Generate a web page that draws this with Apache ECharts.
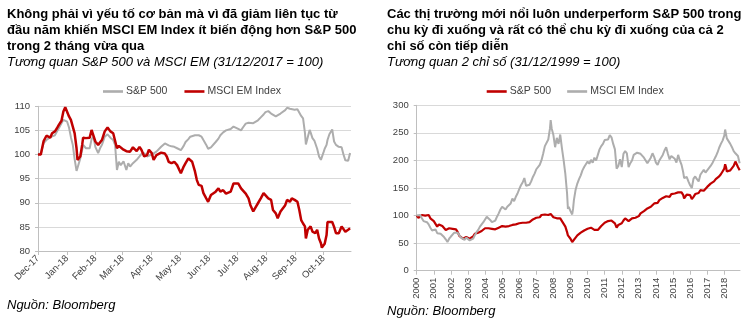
<!DOCTYPE html>
<html>
<head>
<meta charset="utf-8">
<script src="https://cdn.jsdelivr.net/npm/echarts@6/dist/echarts.min.js"></script>
<style>
  html, body { margin: 0; padding: 0; background: #fff; }
  #left  { position: absolute; left: 0;     top: 0; width: 380px; height: 330px; }
  #right { position: absolute; left: 380px; top: 0; width: 367px; height: 330px; }
</style>
</head>
<body>
<div id="left"></div>
<div id="right"></div>
<script>
// ---------- Left panel: S&P 500 vs MSCI EM, 31/12/2017 = 100 ----------
const leftTitle = [
  'Không phải vì yếu tố cơ bản mà vì đã giảm liên tục từ',
  'đầu năm khiến MSCI EM Index ít biến động hơn S&P 500',
  'trong 2 tháng vừa qua'
];
const leftSubtitle = 'Tương quan S&P 500 và MSCI EM (31/12/2017 = 100)';
const leftSeriesNames = ['S&P 500', 'MSCI EM Index'];

const leftDates = [
  '2017-12-29','2018-01-01','2018-01-04','2018-01-07','2018-01-09','2018-01-11','2018-01-13','2018-01-16','2018-01-18','2018-01-20','2018-01-23','2018-01-25','2018-01-27','2018-01-29','2018-01-31',
  '2018-02-02','2018-02-04','2018-02-06','2018-02-08','2018-02-09','2018-02-12','2018-02-14','2018-02-15','2018-02-18','2018-02-20','2018-02-22','2018-02-24','2018-02-26','2018-02-28',
  '2018-03-03','2018-03-05','2018-03-07','2018-03-10','2018-03-13','2018-03-16','2018-03-19','2018-03-21','2018-03-23','2018-03-25','2018-03-27','2018-03-30',
  '2018-04-02','2018-04-04','2018-04-06','2018-04-09','2018-04-13','2018-04-16','2018-04-18','2018-04-21','2018-04-24','2018-04-26','2018-04-29',
  '2018-05-01','2018-05-04','2018-05-06','2018-05-09','2018-05-11','2018-05-13','2018-05-15','2018-05-17','2018-05-20','2018-05-23','2018-05-26','2018-05-28','2018-05-30',
  '2018-06-02','2018-06-04','2018-06-07','2018-06-09','2018-06-11','2018-06-14','2018-06-16','2018-06-18','2018-06-21','2018-06-23','2018-06-26','2018-06-28',
  '2018-07-01','2018-07-03','2018-07-06','2018-07-09','2018-07-11','2018-07-14','2018-07-17','2018-07-19','2018-07-22','2018-07-25','2018-07-27','2018-07-30',
  '2018-08-02','2018-08-04','2018-08-07','2018-08-10','2018-08-12','2018-08-15','2018-08-17','2018-08-20','2018-08-23','2018-08-26','2018-08-28','2018-08-31',
  '2018-09-03','2018-09-05','2018-09-08','2018-09-10','2018-09-13','2018-09-15','2018-09-18','2018-09-20','2018-09-23','2018-09-25','2018-09-28',
  '2018-10-01','2018-10-03','2018-10-05','2018-10-07','2018-10-09','2018-10-10','2018-10-12','2018-10-14','2018-10-15','2018-10-17','2018-10-19','2018-10-20','2018-10-22','2018-10-24','2018-10-26','2018-10-27','2018-10-29','2018-10-30',
  '2018-11-01','2018-11-02','2018-11-04','2018-11-07','2018-11-09','2018-11-11','2018-11-14','2018-11-17','2018-11-19','2018-11-21','2018-11-24','2018-11-26'
];
const leftSP = [
  100, 100.2, 102.4, 103.0, 103.4, 103.6, 103.5, 104.0, 104.7, 105.4, 106.5, 107.2, 107.6, 106.8, 105.6,
  103.6, 102.0, 99.0, 96.6, 97.2, 99.2, 101.0, 102.0, 101.3, 101.6, 101.3, 103.2, 103.7, 101.6,
  100.3, 101.3, 102.0, 103.7, 104.2, 103.5, 103.0, 102.0, 96.8, 98.5, 97.8, 98.6,
  96.8, 98.2, 97.5, 98.2, 98.9, 99.6, 100.1, 100.3, 99.6, 99.8, 100.0,
  100.2, 100.6, 101.0, 101.6, 102.0, 102.3, 102.0, 101.9, 101.7, 101.6, 101.3, 101.0, 100.9,
  101.8, 102.6, 103.2, 103.7, 103.8, 104.0, 104.1, 104.0, 103.7, 103.0, 102.0, 101.2,
  101.5, 101.9, 102.6, 103.3, 104.0, 104.6, 105.0, 105.1, 105.3, 105.8, 106.2, 105.3,
  105.0, 105.6, 106.4, 106.6, 106.8, 106.5, 106.2, 107.1, 107.7, 108.3, 108.8, 109.0,
  108.5, 108.2, 107.9, 108.0, 108.5, 108.8, 109.2, 109.7, 109.5, 109.3, 109.3,
  109.4, 109.0, 108.0, 107.5, 104.5, 102.1, 103.6, 105.1, 104.6, 103.4, 102.9, 102.6, 101.2, 99.6, 98.9, 99.3, 100.6, 101.2,
  102.0, 103.0, 104.2, 105.2, 102.7, 102.0, 101.6, 101.5, 100.0, 98.8, 98.7, 100.3
];
const leftEM = [
  100, 100, 102.8, 103.9, 104.2, 103.5, 104.4, 104.8, 105.4, 106.1, 107.0, 108.9, 109.8, 109.4, 107.9,
  107.2, 105.8, 104.4, 101.3, 98.9, 99.6, 102.0, 103.5, 103.4, 103.7, 103.5, 105.1, 105.3, 102.7,
  102.0, 102.4, 103.0, 104.8, 105.6, 104.8, 104.4, 104.1, 101.3, 101.8, 101.5, 101.0,
  100.7, 100.6, 100.6, 101.5, 100.7, 101.6, 101.0, 99.6, 99.9, 101.0, 100.3,
  98.9, 99.9, 99.6, 100.4, 100.8, 100.2, 99.6, 98.5, 98.2, 98.5, 97.8, 98.2, 96.1,
  97.5, 98.2, 99.2, 98.9, 98.5, 96.5, 94.7, 93.7, 93.5, 92.0, 90.9, 90.2,
  91.6, 91.3, 92.3, 93.0, 92.3, 92.6, 91.9, 92.3, 92.3, 94.0, 94.4, 94.0,
  93.0, 93.3, 91.9, 90.9, 89.5, 88.2, 88.9, 89.9, 90.9, 92.0, 92.3, 90.9,
  90.6, 88.5, 87.8, 86.8, 88.2, 87.8, 89.5, 90.6, 90.2, 90.9, 90.6,
  90.2, 88.5, 86.4, 85.7, 85.1, 82.6, 84.4, 84.0, 85.1, 84.0, 84.4, 83.7, 84.4, 82.6, 81.6, 80.7, 80.9, 81.5,
  83.3, 86.0, 85.7, 86.0, 85.0, 83.7, 83.7, 85.1, 85.2, 84.0, 84.4, 84.7
];
// Monthly axis marks, stepped from the base date
const leftTickDates = ['2017-12-29','2018-01-29','2018-02-28','2018-03-29','2018-04-29','2018-05-29',
                       '2018-06-29','2018-07-29','2018-08-29','2018-09-29','2018-10-29'];
const leftRange = ['2017-12-29', '2018-11-27'];

// ---------- Right panel: long-run comparison, 31/12/1999 = 100 ----------
const rightTitle = [
  'Các thị trường mới nổi luôn underperform S&P 500 trong',
  'chu kỳ đi xuống và rất có thể chu kỳ đi xuống của cả 2',
  'chỉ số còn tiếp diễn'
];
const rightSubtitle = 'Tương quan 2 chỉ số (31/12/1999 = 100)';
const rightSeriesNames = ['S&P 500', 'MSCI EM Index'];

const rightYears = [
  2000.0, 2000.1, 2000.2, 2000.3, 2000.4, 2000.5, 2000.6, 2000.7, 2000.8, 2000.9,
  2001.0, 2001.1, 2001.2, 2001.3, 2001.4, 2001.5, 2001.6, 2001.7, 2001.8, 2001.9,
  2002.0, 2002.1, 2002.2, 2002.3, 2002.4, 2002.5, 2002.6, 2002.7, 2002.8, 2002.9,
  2003.0, 2003.1, 2003.2, 2003.3, 2003.4, 2003.5, 2003.6, 2003.7, 2003.8, 2003.9,
  2004.0, 2004.1, 2004.2, 2004.3, 2004.4, 2004.5, 2004.6, 2004.7, 2004.8, 2004.9,
  2005.0, 2005.1, 2005.2, 2005.3, 2005.4, 2005.5, 2005.6, 2005.7, 2005.8, 2005.9,
  2006.0, 2006.1, 2006.2, 2006.3, 2006.4, 2006.5, 2006.6, 2006.7, 2006.8, 2006.9,
  2007.0, 2007.1, 2007.2, 2007.3, 2007.4, 2007.5, 2007.6, 2007.7, 2007.8, 2007.84, 2007.9,
  2008.0, 2008.1, 2008.2, 2008.3, 2008.4, 2008.5, 2008.6, 2008.7, 2008.8, 2008.85, 2008.9,
  2009.0, 2009.1, 2009.15, 2009.2, 2009.3, 2009.4, 2009.5, 2009.6, 2009.7, 2009.8, 2009.9,
  2010.0, 2010.1, 2010.2, 2010.3, 2010.4, 2010.5, 2010.6, 2010.7, 2010.8, 2010.9,
  2011.0, 2011.1, 2011.2, 2011.3, 2011.4, 2011.5, 2011.6, 2011.7, 2011.8, 2011.9,
  2012.0, 2012.1, 2012.2, 2012.3, 2012.4, 2012.5, 2012.6, 2012.7, 2012.8, 2012.9,
  2013.0, 2013.1, 2013.2, 2013.3, 2013.4, 2013.5, 2013.6, 2013.7, 2013.8, 2013.9,
  2014.0, 2014.1, 2014.2, 2014.3, 2014.4, 2014.5, 2014.6, 2014.7, 2014.8, 2014.9,
  2015.0, 2015.1, 2015.2, 2015.3, 2015.4, 2015.5, 2015.6, 2015.65, 2015.7, 2015.8, 2015.9,
  2016.0, 2016.1, 2016.2, 2016.3, 2016.4, 2016.5, 2016.6, 2016.7, 2016.8, 2016.9,
  2017.0, 2017.1, 2017.2, 2017.3, 2017.4, 2017.5, 2017.6, 2017.7, 2017.8, 2017.9,
  2018.0, 2018.05, 2018.1, 2018.15, 2018.25, 2018.35, 2018.45, 2018.55, 2018.65, 2018.72, 2018.8, 2018.9
];
const rightSP = [
  100, 96, 98, 101, 100, 100, 103, 101, 95, 92,
  90, 87, 80, 84, 84, 81, 79, 74, 73, 77,
  77, 76, 78, 75, 70, 63, 61, 58, 57, 61,
  60, 58, 56, 62, 67, 68, 69, 70, 72, 74,
  77, 78, 77, 77, 76, 76, 75, 77, 78, 80,
  81, 80, 80, 80, 81, 82, 83, 83, 84, 84,
  86, 87, 87, 88, 87, 86, 88, 91, 93, 95,
  96, 96, 97, 101, 102, 102, 99, 101, 104, 103, 100,
  97, 94, 95, 93, 95, 90, 87, 80, 70, 64, 61,
  58, 52, 50, 55, 60, 64, 65, 69, 71, 73, 74,
  76, 74, 78, 81, 74, 71, 74, 77, 81, 84,
  87, 89, 90, 92, 91, 90, 86, 78, 83, 86,
  86, 91, 95, 95, 90, 92, 95, 97, 96, 95,
  99, 104, 106, 108, 111, 113, 114, 116, 119, 122,
  125, 123, 128, 129, 132, 134, 135, 135, 134, 139,
  139, 140, 141, 142, 141, 142, 137, 131, 132, 138, 140,
  137, 130, 134, 139, 140, 141, 146, 147, 145, 148,
  152, 155, 158, 160, 162, 166, 168, 171, 175, 180,
  185, 193, 188, 180, 179, 182, 186, 190, 198, 195, 188, 182
];
const rightEM = [
  100, 102, 101, 95, 90, 91, 88, 84, 78, 73,
  70, 75, 68, 68, 67, 65, 61, 57, 52, 58,
  62, 65, 69, 71, 69, 64, 60, 58, 56, 60,
  58, 55, 57, 58, 64, 70, 74, 80, 84, 88,
  93, 98, 99, 92, 88, 90, 91, 98, 104, 111,
  116, 117, 111, 116, 118, 122, 131, 126, 134, 140,
  148, 155, 160, 168, 154, 154, 156, 162, 170, 176,
  184, 184, 192, 200, 212, 226, 225, 238, 258, 273, 258,
  246, 224, 241, 230, 247, 222, 200, 175, 140, 112, 116,
  108, 102, 112, 128, 147, 158, 166, 173, 182, 188, 193,
  198, 194, 201, 196, 205, 200, 210, 220, 226, 230,
  237, 234, 238, 246, 242, 230, 220, 185, 190, 202,
  188, 212, 217, 213, 188, 195, 200, 210, 212, 214,
  217, 212, 209, 205, 202, 195, 200, 205, 213, 206,
  196, 192, 200, 205, 210, 218, 224, 212, 202, 208,
  209, 203, 196, 210, 200, 192, 178, 168, 165, 170, 162,
  155, 150, 167, 171, 166, 162, 174, 177, 183, 178,
  182, 186, 190, 195, 201, 207, 214, 223, 230, 236,
  245, 256, 248, 240, 238, 230, 224, 217, 213, 212, 208, 195
];
const rightTickYears = [2000, 2001, 2002, 2003, 2004, 2005, 2006, 2007, 2008, 2009,
                        2010, 2011, 2012, 2013, 2014, 2015, 2016, 2017, 2018];
const rightRange = [2000, 2018.92];

const sourceNote = 'Nguồn: Bloomberg';

// ---------- Shared styling ----------
const FONT = '"Liberation Sans", Arial, sans-serif';
const RED = '#C00000';
const GRAY = '#ADADAD';
const AXIS = '#BFBFBF';
const GRID = '#D9D9D9';
const LABEL = '#404040';
const MONTHS = ['Jan','Feb','Mar','Apr','May','Jun','Jul','Aug','Sep','Oct','Nov','Dec'];

// Dates are plotted as millisecond timestamps on a plain value axis
function toTime(s) {
  const p = s.split('-').map(Number);
  return new Date(p[0], p[1] - 1, p[2]).getTime();
}
function monthLabel(v) {
  const d = new Date(v);
  return MONTHS[d.getMonth()] + '-' + String(d.getFullYear()).slice(2);
}

function titleBlock(lines, sub) {
  return {
    left: 7, top: 6, padding: 0, itemGap: 0,
    text: lines.join('\n'),
    textStyle: { fontFamily: FONT, fontSize: 13, fontWeight: 'bold', color: '#000', lineHeight: 16 },
    subtext: sub,
    subtextStyle: { fontFamily: FONT, fontSize: 13, fontStyle: 'italic', color: '#000', lineHeight: 16 }
  };
}
function lineSeries(name, data, color, width) {
  return {
    type: 'line', name: name, data: data, symbol: 'none', showSymbol: false,
    lineStyle: { color: color, width: width }, itemStyle: { color: color },
    emphasis: { disabled: true }, z: 2
  };
}
function legendBlock(left, names, gap) {
  return {
    left: left, top: 86, padding: 0, icon: 'rect', itemWidth: 20, itemHeight: 2.6, itemGap: gap,
    data: names,
    textStyle: { fontFamily: FONT, fontSize: 10.5, color: LABEL, padding: [0, 0, 0, -2] }
  };
}
function valueAxisY(min, max, step) {
  return {
    type: 'value', min: min, max: max, interval: step,
    axisLine: { show: true, lineStyle: { color: AXIS } },
    axisTick: { show: true, length: 3, lineStyle: { color: AXIS } },
    axisLabel: { fontFamily: FONT, fontSize: 9.5, color: LABEL, margin: 8 },
    splitLine: { show: true, lineStyle: { color: GRID, width: 1 } }
  };
}
function sourceText(top) {
  return [{
    type: 'text', left: 7, top: top,
    style: { text: sourceNote, font: 'italic 13px ' + FONT, fill: '#000' }
  }];
}

// ---------- Left chart ----------
const leftChart = echarts.init(document.getElementById('left'), null, { renderer: 'canvas' });
const leftTicks = leftTickDates.map(toTime);
leftChart.setOption({
  animation: false,
  backgroundColor: '#fff',
  title: titleBlock(leftTitle, leftSubtitle),
  legend: legendBlock(103, leftSeriesNames, 17),
  grid: { left: 38, top: 106.3, width: 313, height: 144.7, containLabel: false },
  xAxis: {
    type: 'value', min: toTime(leftRange[0]), max: toTime(leftRange[1]), scale: true,
    axisLine: { show: true, lineStyle: { color: AXIS } },
    axisTick: { show: true, length: 4, customValues: leftTicks, lineStyle: { color: AXIS } },
    axisLabel: { customValues: leftTicks, rotate: 45, formatter: monthLabel,
                 fontFamily: FONT, fontSize: 9.5, color: LABEL, margin: 6 },
    splitLine: { show: false }
  },
  yAxis: valueAxisY(80, 110, 5),
  series: [
    lineSeries(leftSeriesNames[0], leftDates.map((d, i) => [toTime(d), leftSP[i]]), GRAY, 2),
    lineSeries(leftSeriesNames[1], leftDates.map((d, i) => [toTime(d), leftEM[i]]), RED, 2.5)
  ],
  graphic: sourceText(299)
});

// ---------- Right chart ----------
const rightChart = echarts.init(document.getElementById('right'), null, { renderer: 'canvas' });
rightChart.setOption({
  animation: false,
  backgroundColor: '#fff',
  title: titleBlock(rightTitle, rightSubtitle),
  legend: legendBlock(106.7, rightSeriesNames, 16),
  grid: { left: 36.7, top: 105.3, width: 323.3, height: 165.4, containLabel: false },
  xAxis: {
    type: 'value', min: rightRange[0], max: rightRange[1], scale: true,
    axisLine: { show: true, lineStyle: { color: AXIS } },
    axisTick: { show: true, length: 4, customValues: rightTickYears, lineStyle: { color: AXIS } },
    axisLabel: { customValues: rightTickYears, rotate: 90, formatter: v => String(v),
                 fontFamily: FONT, fontSize: 9.5, color: LABEL, margin: 7 },
    splitLine: { show: false }
  },
  yAxis: valueAxisY(0, 300, 50),
  series: [
    lineSeries(rightSeriesNames[0], rightYears.map((y, i) => [y, rightSP[i]]), RED, 2.2),
    lineSeries(rightSeriesNames[1], rightYears.map((y, i) => [y, rightEM[i]]), GRAY, 2)
  ],
  graphic: sourceText(305)
});
</script>
</body>
</html>
